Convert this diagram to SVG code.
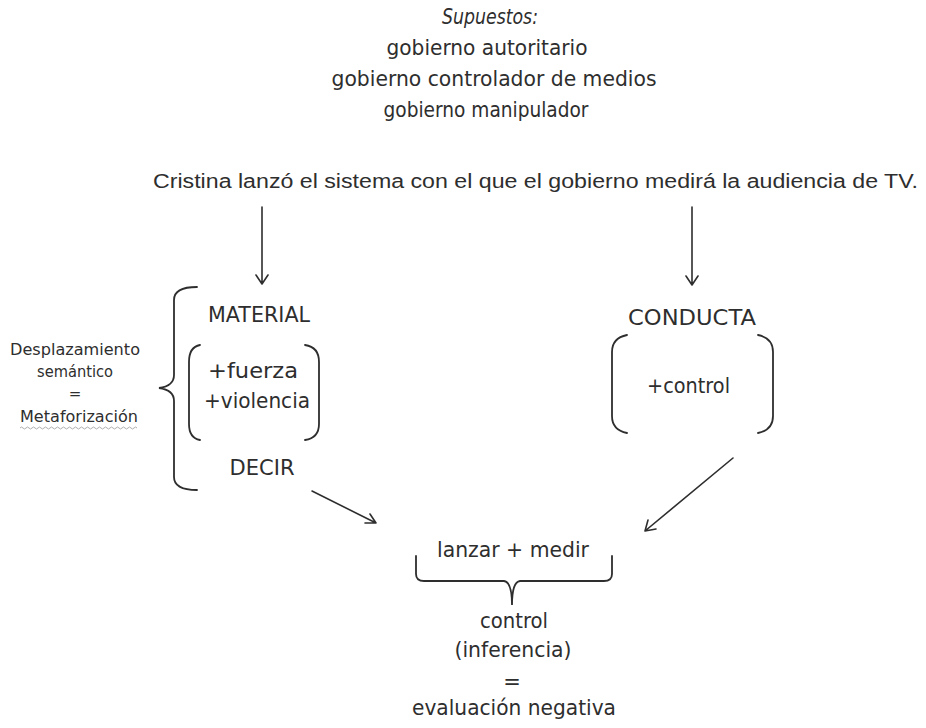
<svg xmlns="http://www.w3.org/2000/svg" width="926" height="728" viewBox="0 0 926 728">
  <style>
    text { font-family: "DejaVu Sans", "Liberation Sans", sans-serif; fill: #2e2e2e; font-size: 21px; }
    .c { text-anchor: middle; }
    .sm { font-size: 15px; }
    .head { font-family: "Liberation Sans", sans-serif; font-size: 20px; }
    .ln { fill: none; stroke: #2e2e2e; stroke-width: 1.6; stroke-linecap: round; stroke-linejoin: round; }
    .br { fill: none; stroke: #2e2e2e; stroke-width: 1.8; stroke-linecap: round; }
  </style>
  <rect width="926" height="728" fill="#ffffff"/>

  <!-- assumptions -->
  <g id="supuestos">
    <text x="490" y="24" class="c" font-style="italic" textLength="96" lengthAdjust="spacingAndGlyphs">Supuestos:</text>
    <text x="487" y="55" class="c" textLength="201" lengthAdjust="spacingAndGlyphs">gobierno autoritario</text>
    <text x="494" y="86" class="c" textLength="325" lengthAdjust="spacingAndGlyphs">gobierno controlador de medios</text>
    <text x="486" y="117" class="c" textLength="205" lengthAdjust="spacingAndGlyphs">gobierno manipulador</text>
  </g>

  <!-- headline sentence -->
  <g id="oracion">
    <text x="153" y="188" class="head" textLength="765" lengthAdjust="spacingAndGlyphs">Cristina lanzó el sistema con el que el gobierno medirá la audiencia de TV.</text>
  </g>

  <!-- side label -->
  <g id="desplazamiento">
    <text x="75" y="355" class="c sm" textLength="130" lengthAdjust="spacingAndGlyphs">Desplazamiento</text>
    <text x="75" y="377" class="c sm" textLength="76" lengthAdjust="spacingAndGlyphs">semántico</text>
    <text x="75" y="399" class="c sm">=</text>
    <text x="79" y="422" class="c sm" textLength="118" lengthAdjust="spacingAndGlyphs">Metaforización</text>
    <path d="M20,428 q1.5,-2 3,0 t3,0 t3,0 t3,0 t3,0 t3,0 t3,0 t3,0 t3,0 t3,0 t3,0 t3,0 t3,0 t3,0 t3,0 t3,0 t3,0 t3,0 t3,0 t3,0 t3,0 t3,0 t3,0 t3,0 t3,0 t3,0 t3,0 t3,0 t3,0 t3,0 t3,0 t3,0 t3,0 t3,0 t3,0 t3,0 t3,0 t3,0 t3,0" fill="none" stroke="#9a9a9a" stroke-width="0.8"/>
  </g>

  <!-- left group: MATERIAL / DECIR -->
  <g id="material">
    <path class="br" d="M197,287 Q174,287 174,300 L174,375 Q174,386 159,388 Q174,390 174,401 L174,477 Q174,490 197,490"/>
    <text x="259" y="322" class="c" textLength="102" lengthAdjust="spacingAndGlyphs">MATERIAL</text>
    <path class="br" d="M200,345 Q189,347 189,362 L189,424 Q189,438 200,440"/>
    <path class="br" d="M305,345 Q319,347 319,362 L319,424 Q319,438 305,440"/>
    <text x="208" y="378" textLength="90" lengthAdjust="spacingAndGlyphs">+fuerza</text>
    <text x="204" y="408" textLength="106" lengthAdjust="spacingAndGlyphs">+violencia</text>
    <text x="262" y="475" class="c" textLength="65" lengthAdjust="spacingAndGlyphs">DECIR</text>
  </g>

  <!-- right group: CONDUCTA -->
  <g id="conducta">
    <text x="692" y="325" class="c" textLength="128" lengthAdjust="spacingAndGlyphs">CONDUCTA</text>
    <path class="br" d="M627,335 Q612,338 612,352 L612,416 Q612,430 627,433"/>
    <path class="br" d="M758,335 Q773,338 773,352 L773,416 Q773,430 758,433"/>
    <text x="647" y="393" textLength="83" lengthAdjust="spacingAndGlyphs">+control</text>
  </g>

  <!-- result -->
  <g id="resultado">
    <text x="513" y="557" class="c" textLength="152" lengthAdjust="spacingAndGlyphs">lanzar + medir</text>
    <path class="br" d="M416,556 L416,574 Q416,581 424,581 L504,581 Q512,582 512,605 Q512,582 520,581 L604,581 Q612,581 612,574 L612,556"/>
    <text x="514" y="628" class="c" textLength="68" lengthAdjust="spacingAndGlyphs">control</text>
    <text x="513" y="657" class="c" textLength="117" lengthAdjust="spacingAndGlyphs">(inferencia)</text>
    <text x="512" y="689" class="c">=</text>
    <text x="514" y="715" class="c" textLength="204" lengthAdjust="spacingAndGlyphs">evaluación negativa</text>
  </g>

  <!-- connectors -->
  <g id="conectores">
    <path class="ln" d="M262,207 L262,284 M256,275 L262,284 L268,275"/>
    <path class="ln" d="M692,207 L692,285 M686,276 L692,285 L698,276"/>
    <path class="ln" d="M312,491 L376,523 M365,523 L376,523 L370,514"/>
    <path class="ln" d="M733,458 L645,531 M648,520 L645,531 L656,529"/>
  </g>
</svg>
